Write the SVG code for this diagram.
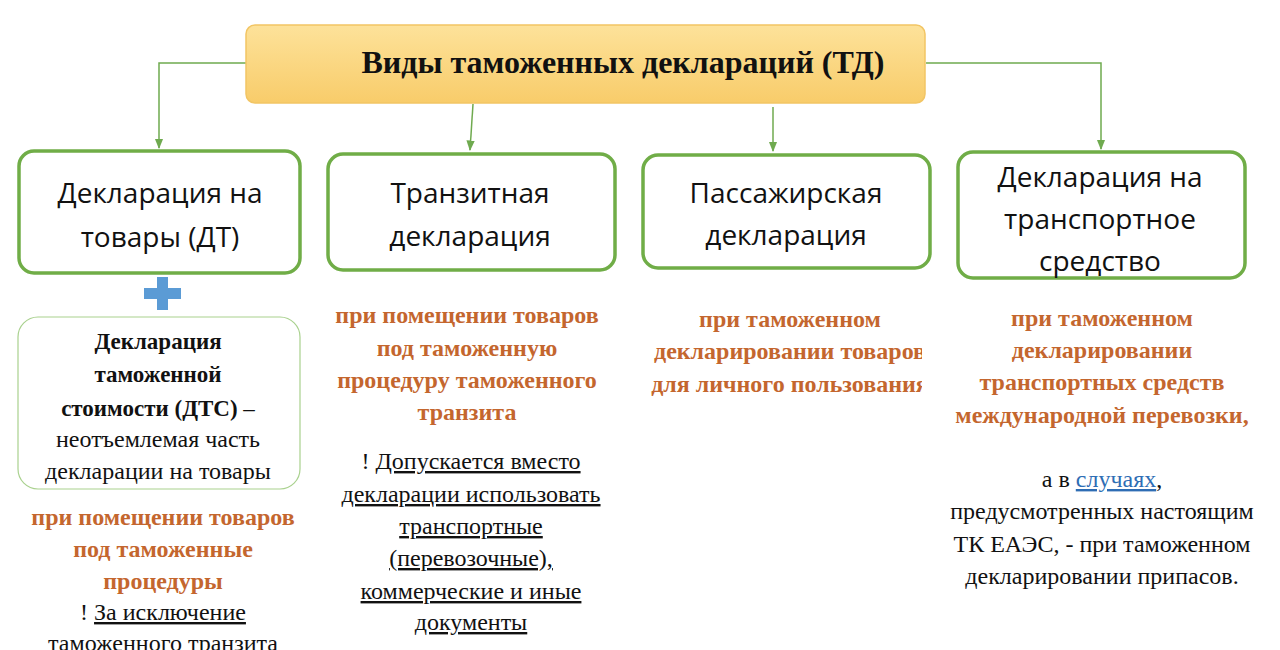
<svg xmlns="http://www.w3.org/2000/svg" width="1280" height="650" viewBox="0 0 1280 650">
<defs>
<linearGradient id="g1" x1="0" y1="0" x2="0" y2="1">
<stop offset="0" stop-color="#FDE29A"/>
<stop offset="1" stop-color="#F8CC6A"/>
</linearGradient>
<marker id="arr" viewBox="0 0 10 10" refX="9" refY="5" markerWidth="7" markerHeight="7" orient="auto">
<path d="M0,1 L10,5 L0,9 z" fill="#6FAA4F"/>
</marker>
<clipPath id="clip3"><rect x="600" y="290" width="322" height="120"/></clipPath>
</defs>
<style>
.box{fill:#fff;stroke:#70AD47;stroke-width:3.5}
.conn{fill:none;stroke:#6FAA4F;stroke-width:1.5;marker-end:url(#arr)}
.hdr{font-family:"Open Sans","Noto Sans",sans-serif;font-size:28px;fill:#111;text-anchor:middle}
.or{font-family:"Liberation Serif",serif;font-weight:bold;font-size:24px;fill:#C4662E;text-anchor:middle}
.bk{font-family:"Liberation Serif",serif;font-size:24px;fill:#111;text-anchor:middle}
.bb{font-family:"Liberation Serif",serif;font-weight:bold;font-size:23px;fill:#111;text-anchor:middle}
.u{text-decoration:underline}
</style>
<rect width="1280" height="650" fill="#fff"/>
<g id="connectors">
<path class="conn" d="M246,63 H159 V148"/>
<path class="conn" d="M473,104 L470,150"/>
<path class="conn" d="M773,107 V151"/>
<path class="conn" d="M926,63 H1101 V149"/>
</g>
<g id="root">
<rect x="246" y="25" width="679" height="78" rx="9" fill="url(#g1)" stroke="#F2C564" stroke-width="1.5"/>
<text x="623" y="73" font-family="Liberation Serif,serif" font-weight="bold" font-size="32" fill="#111" text-anchor="middle">Виды таможенных деклараций (ТД)</text>
</g>
<g id="n1">
<rect class="box" x="19" y="151" width="281" height="122" rx="15"/>
<text class="hdr" x="160" y="203">Декларация на</text>
<text class="hdr" x="160" y="247">товары (ДТ)</text>
</g>
<g id="n2">
<rect class="box" x="328" y="154" width="287" height="116" rx="15"/>
<text class="hdr" x="470" y="203">Транзитная</text>
<text class="hdr" x="470" y="246">декларация</text>
</g>
<g id="n3">
<rect class="box" x="643" y="155" width="287" height="113" rx="15"/>
<text class="hdr" x="786" y="203">Пассажирская</text>
<text class="hdr" x="786" y="245">декларация</text>
</g>
<g id="n4">
<rect class="box" x="958" y="152" width="287" height="126" rx="15"/>
<text class="hdr" x="1100" y="187">Декларация на</text>
<text class="hdr" x="1100" y="229">транспортное</text>
<text class="hdr" x="1100" y="271">средство</text>
</g>
<g id="plus">
<path d="M157,277 H168 V288 H181 V299 H168 V310 H157 V299 H144 V288 H157 z" fill="#5B9BD5"/>
</g>
<g id="dts">
<rect x="18" y="317" width="282" height="172" rx="20" fill="#fff" stroke="#A9D18E" stroke-width="1.2"/>
<text class="bb" x="158" y="349">Декларация</text>
<text class="bb" x="158" y="382">таможенной</text>
<text class="bb" x="158" y="416">стоимости (ДТС) <tspan font-weight="normal">–</tspan></text>
<text class="bk" x="158" y="447">неотъемлемая часть</text>
<text class="bk" x="158" y="479">декларации на товары</text>
</g>
<g id="t1">
<text class="or" x="163" y="525">при помещении товаров</text>
<text class="or" x="163" y="557">под таможенные</text>
<text class="or" x="163" y="589">процедуры</text>
<text class="bk" x="163" y="620">! <tspan class="u">За исключение</tspan></text>
<text class="bk u" x="163" y="651">таможенного транзита</text>
</g>
<g id="t2">
<text class="or" x="467" y="323">при помещении товаров</text>
<text class="or" x="467" y="356">под таможенную</text>
<text class="or" x="467" y="388">процедуру таможенного</text>
<text class="or" x="467" y="420">транзита</text>
<text class="bk" x="471" y="469">! <tspan class="u">Допускается вместо</tspan></text>
<text class="bk u" x="471" y="502">декларации использовать</text>
<text class="bk u" x="471" y="534">транспортные</text>
<text class="bk u" x="471" y="566">(перевозочные),</text>
<text class="bk u" x="471" y="599">коммерческие и иные</text>
<text class="bk u" x="471" y="630">документы</text>
</g>
<g id="t3" clip-path="url(#clip3)">
<text class="or" x="790" y="327">при таможенном</text>
<text class="or" x="790" y="359">декларировании товаров</text>
<text class="or" x="790" y="392">для личного пользования</text>
</g>
<g id="t4">
<text class="or" x="1102" y="326">при таможенном</text>
<text class="or" x="1102" y="358">декларировании</text>
<text class="or" x="1102" y="390">транспортных средств</text>
<text class="or" x="1102" y="423">международной перевозки,</text>
<text class="bk" x="1102" y="487">а в <tspan class="u" fill="#2E6DB4">случаях</tspan>,</text>
<text class="bk" x="1102" y="519">предусмотренных настоящим</text>
<text class="bk" x="1102" y="552">ТК ЕАЭС, - при таможенном</text>
<text class="bk" x="1102" y="584">декларировании припасов.</text>
</g>
</svg>
